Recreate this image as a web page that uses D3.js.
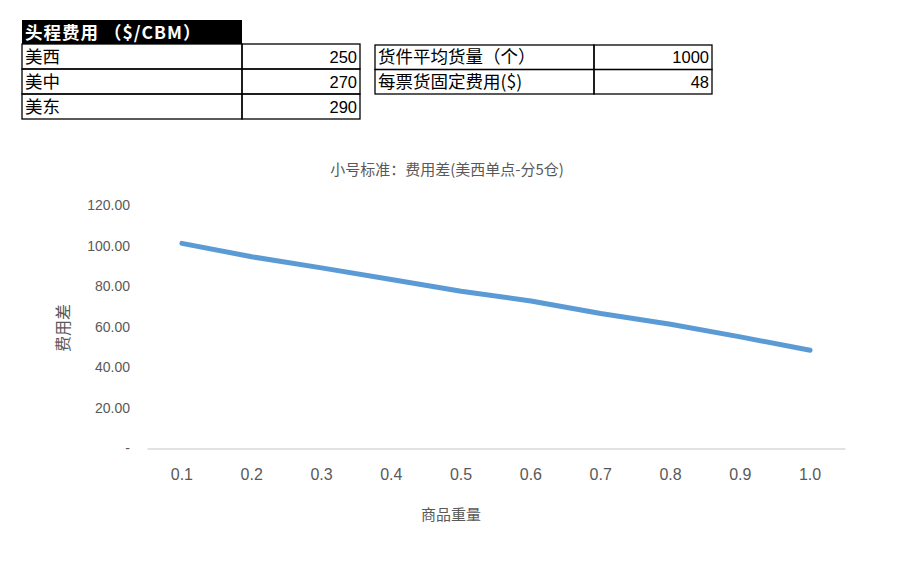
<!DOCTYPE html>
<html>
<head>
<meta charset="utf-8">
<script src="https://cdn.jsdelivr.net/npm/d3@7"></script>
<style>
  body { margin: 0; background: #fff; }
  svg { display: block; font-family: "Noto Sans CJK SC", "Noto Sans", sans-serif; }
</style>
</head>
<body>
<svg id="chart" width="902" height="568"></svg>
<script>
// freight table
const regions = ['美西', '美中', '美东'];
const freightCost = [250, 270, 290];
const paramNames = ['货件平均货量（个）', '每票货固定费用($)'];
const paramValues = [1000, 48];

// chart series
const weights = ['0.1', '0.2', '0.3', '0.4', '0.5', '0.6', '0.7', '0.8', '0.9', '1.0'];
const costDiff = [101.1, 94.5, 89.0, 83.3, 77.5, 72.7, 66.5, 61.2, 55.0, 48.4];
const yTicks = [0, 20, 40, 60, 80, 100, 120];

const svg = d3.select('#chart');
const g = svg.append('g');

// ---- tables ----
function drawTable (x, y, colW, rowH, names, values) {
    names.forEach((n, i) => {
        let ry = y + i * rowH;
        g.append('rect')
            .attr('x', x).attr('y', ry)
            .attr('width', colW[0]).attr('height', rowH)
            .attr('fill', 'none').attr('stroke', '#000').attr('stroke-width', 1.3);
        g.append('rect')
            .attr('x', x + colW[0]).attr('y', ry)
            .attr('width', colW[1]).attr('height', rowH)
            .attr('fill', 'none').attr('stroke', '#000').attr('stroke-width', 1.3);
        g.append('text')
            .attr('x', x + 3).attr('y', ry + rowH / 2 + 6)
            .attr('font-size', 17.5).attr('fill', '#000')
            .text(n);
        g.append('text')
            .attr('x', x + colW[0] + colW[1] - 3).attr('y', ry + rowH / 2 + 6)
            .attr('font-size', 16.5).attr('fill', '#000')
            .attr('text-anchor', 'end')
            .attr('font-family', '"Liberation Sans", sans-serif')
            .text(values[i]);
    });
}

g.append('rect')
    .attr('x', 22).attr('y', 20)
    .attr('width', 220).attr('height', 24)
    .attr('fill', '#000');
g.append('text')
    .attr('x', 25).attr('y', 39)
    .attr('font-size', 17.5).attr('font-weight', 'bold').attr('fill', '#fff')
    .attr('letter-spacing', 1)
    .text('头程费用 （$/CBM）');

drawTable(22, 44, [220, 118], 25, regions, freightCost);
drawTable(375, 45, [219, 118], 24.5, paramNames, paramValues);

// ---- chart ----
const x = d3.scaleBand()
    .domain(weights)
    .range([147, 845]);

const y = d3.scaleLinear()
    .domain([0, 120])
    .range([448.5, 205]);

g.append('text')
    .attr('x', 447).attr('y', 175)
    .attr('text-anchor', 'middle')
    .attr('font-size', 15).attr('fill', '#595959')
    .text('小号标准：费用差(美西单点-分5仓)');

// y axis (labels only)
const yAxis = d3.axisLeft(y)
    .tickValues(yTicks)
    .tickSize(0)
    .tickPadding(0)
    .tickFormat(d => d === 0 ? '-' : d3.format('.2f')(d));

let ya = g.append('g')
    .attr('transform', 'translate(130,0)')
    .call(yAxis);
ya.select('.domain').remove();
ya.selectAll('text')
    .attr('font-size', 14).attr('fill', '#595959')
    .attr('font-family', '"Liberation Sans", "Noto Sans", sans-serif');

// x axis
const xAxis = d3.axisBottom(x).tickSize(0).tickPadding(20);
let xa = g.append('g')
    .attr('transform', `translate(0,${y(0)})`)
    .call(xAxis);
xa.select('.domain').attr('stroke', '#d9d9d9').attr('stroke-width', 1.5);
xa.selectAll('text')
    .attr('font-size', 16).attr('fill', '#595959')
    .attr('font-family', '"Liberation Sans", "Noto Sans", sans-serif');

// axis titles
g.append('text')
    .attr('transform', 'translate(69,328) rotate(-90)')
    .attr('text-anchor', 'middle')
    .attr('font-size', 16).attr('fill', '#595959')
    .text('费用差');

g.append('text')
    .attr('x', 451).attr('y', 520)
    .attr('text-anchor', 'middle')
    .attr('font-size', 15).attr('fill', '#595959')
    .text('商品重量');

// line
const line = d3.line()
    .x((d, i) => x(weights[i]) + x.bandwidth() / 2)
    .y(d => y(d));

g.append('path')
    .datum(costDiff)
    .attr('d', line)
    .attr('fill', 'none')
    .attr('stroke', '#5b9bd5')
    .attr('stroke-width', 5)
    .attr('stroke-linecap', 'round')
    .attr('stroke-linejoin', 'round');
</script>
</body>
</html>
